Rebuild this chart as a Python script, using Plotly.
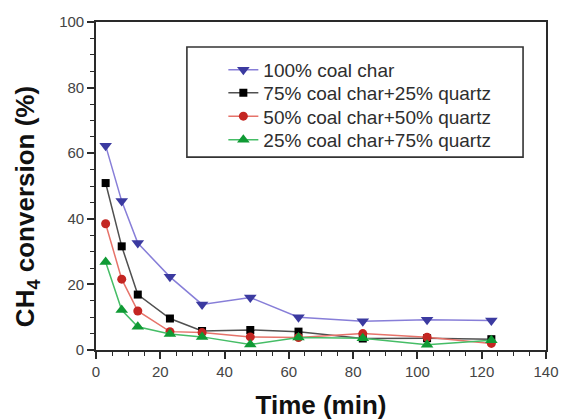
import plotly.graph_objects as go

time_min = [3, 8, 13, 23, 33, 48, 63, 83, 103, 123]
coal100 = [62.3, 45.4, 32.6, 22.3, 13.9, 16.0, 10.0, 8.8, 9.2, 9.0]
coal75 = [50.9, 31.6, 16.9, 9.6, 5.8, 6.1, 5.6, 3.5, 3.6, 3.3]
coal50 = [38.5, 21.6, 11.9, 5.6, 5.3, 4.0, 3.8, 5.0, 3.9, 2.0]
coal25 = [26.8, 12.2, 7.1, 4.9, 4.0, 1.7, 3.8, 3.6, 1.6, 3.0]

names = ["100% coal char", "75% coal char+25% quartz",
         "50% coal char+50% quartz", "25% coal char+75% quartz"]
series = [coal100, coal75, coal50, coal25]
line_colors = ["#877ed8", "#505050", "#e6736a", "#45bd66"]
marker_colors = ["#3b3aa0", "#000000", "#c42622", "#0f9a34"]
symbols = ["triangle-down", "square", "circle", "triangle-up"]
sizes = [11, 8, 9, 11]
legend_ids = ["legend", "legend2", "legend3", "legend4"]
legend_rows = [0.8537, 0.7835, 0.7124, 0.6402]

FONT = "Liberation Sans, Arial, sans-serif"

fig = go.Figure()
for n, s, lc, mc, sym, sz, lg in zip(names, series, line_colors, marker_colors, symbols, sizes, legend_ids):
    fig.add_trace(go.Scatter(
        x=time_min, y=s, name=n, mode="lines+markers",
        line=dict(color=lc, width=1.5),
        marker=dict(symbol=sym, color=mc, size=sz, line=dict(width=0)),
        legend=lg,
    ))

axis_common = dict(
    showline=True, linecolor="#2a2a2a", linewidth=1.6, mirror=True,
    ticks="outside", ticklen=7, tickwidth=1.5, tickcolor="#2a2a2a",
    showgrid=False, zeroline=False, automargin=False,
    tickfont=dict(family=FONT, size=15, color="#444"),
    minor=dict(ticks="outside", ticklen=4, tickwidth=1.3, tickcolor="#2a2a2a", showgrid=False),
)

fig.update_xaxes(range=[0, 140], dtick=20, tick0=0,
                 title=dict(text="<b>Time (min)</b>", font=dict(family=FONT, size=26, color="#111"), standoff=19),
                 **axis_common)
fig.update_yaxes(range=[0, 100], dtick=20, tick0=0, **axis_common)

# y-axis title placed slightly below the plot centre, as in the reference
fig.add_annotation(text="<b>CH<sub>4</sub> conversion (%)</b>", textangle=-90,
                   xref="paper", yref="paper", x=-0.153, y=0.436,
                   xanchor="center", yanchor="middle", showarrow=False,
                   font=dict(family=FONT, size=26, color="#111"))

# legend frame
fig.add_shape(type="rect", xref="paper", yref="paper",
              x0=0.202, x1=0.949, y0=0.588, y1=0.924,
              line=dict(color="#333", width=1.6), fillcolor="rgba(0,0,0,0)", layer="above")

layout_legends = {}
for lg, yr in zip(legend_ids, legend_rows):
    layout_legends[lg] = dict(x=0.283, y=yr, xanchor="left", yanchor="middle",
                              borderwidth=0, bgcolor="rgba(0,0,0,0)",
                              font=dict(family=FONT, size=19, color="#2e2e2e"),
                              itemwidth=30)

fig.update_layout(
    width=562, height=420,
    margin=dict(l=96, r=16, t=22, b=70),
    plot_bgcolor="white", paper_bgcolor="white",
    showlegend=True,
    **layout_legends,
)

fig.write_html("out.html")
